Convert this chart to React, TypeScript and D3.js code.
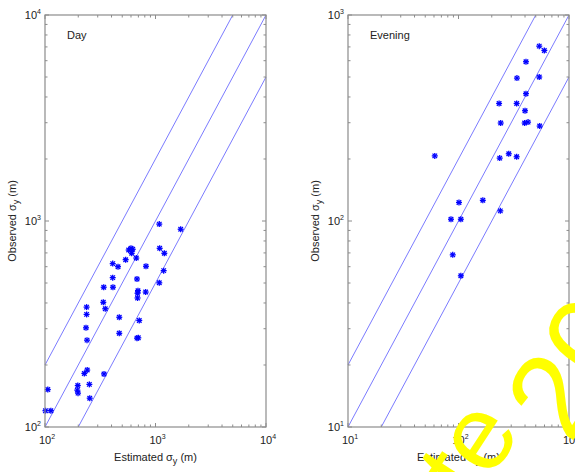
import React from "react";
import * as d3 from "d3";

// Day panel data (estimated, observed) in metres
const dayEstimated = [106, 101, 113, 238, 238, 235, 240, 241, 227, 198, 196, 199, 252, 254, 337, 351, 340, 412, 410, 410, 458, 342, 470, 470, 537, 572, 600, 622, 609, 670, 680, 694, 688, 688, 815, 820, 713, 680, 699, 1091, 1202, 1186, 1082, 1082, 1690];
const dayObserved = [152, 120, 120, 382, 352, 303, 264, 189, 182, 159, 151, 146, 161, 138, 403, 375, 477, 477, 531, 621, 600, 181, 341, 285, 649, 723, 737, 729, 697, 661, 523, 459, 446, 423, 452, 603, 329, 270, 271, 737, 697, 574, 501, 966, 912];

// Evening panel data
const eveEstimated = [61, 101, 85.5, 105, 166, 239, 236, 285, 336, 241, 233, 336, 338, 408, 408, 400, 397, 426, 538, 598, 538, 543, 88.7, 105];
const eveObserved = [207, 123, 102, 102, 126, 112, 202, 212, 205, 299, 372, 372, 494, 593, 415, 343, 299, 302, 706, 673, 500, 289, 68.5, 54.2];

const ratioLines = [2, 1, 0.5];

const dayDomain: [number, number] = [100, 10000];
const eveDomain: [number, number] = [10, 1000];

const FONT = "'Liberation Sans', Arial, sans-serif";
const LINE_COLOR = "#7b7bff";
const MARK_COLOR = "#0000ff";
const AXIS_COLOR = "#8c8c8c";

type PanelProps = {
  left: number;
  domain: [number, number];
  xs: number[];
  ys: number[];
  title: string;
};

const TOP = 15;
const BOTTOM = 427;
const WIDTH = 221;

function Sup({ x, y, base, exp, anchor }: { x: number; y: number; base: string; exp: string; anchor: string }) {
  return (
    <text x={x} y={y} textAnchor={anchor} fontFamily={FONT} fontSize={11} fill="#222">
      {base}
      <tspan fontSize={7} dy={-5}>{exp}</tspan>
    </text>
  );
}

function Panel({ left, domain, xs, ys, title }: PanelProps) {
  const x = d3.scaleLog().domain(domain).range([left, left + WIDTH]);
  const y = d3.scaleLog().domain(domain).range([BOTTOM, TOP]);
  const [lo, hi] = domain;
  const e0 = Math.round(Math.log10(lo));
  const e1 = Math.round(Math.log10(hi));
  const majors: number[] = [];
  const minors: number[] = [];
  for (let e = e0; e <= e1; e++) {
    majors.push(Math.pow(10, e));
    if (e < e1) for (let m = 2; m <= 9; m++) minors.push(m * Math.pow(10, e));
  }
  const line = d3.line<[number, number]>().x((d) => x(d[0])).y((d) => y(d[1]));
  const ms = 3;
  return (
    <g>
      {ratioLines.map((k, i) => {
        const xa = Math.max(lo, lo / k);
        const xb = Math.min(hi, hi / k);
        return (
          <path key={i} d={line([[xa, xa * k], [xb, xb * k]]) || ""} stroke={LINE_COLOR} strokeWidth={1} fill="none" />
        );
      })}
      {xs.map((v, i) => {
        const cx = x(v);
        const cy = y(ys[i]);
        const d = 0.75 * ms;
        return (
          <g key={i} stroke={MARK_COLOR} strokeWidth={1.3}>
            <line x1={cx - ms} y1={cy} x2={cx + ms} y2={cy} />
            <line x1={cx} y1={cy - ms} x2={cx} y2={cy + ms} />
            <line x1={cx - d} y1={cy - d} x2={cx + d} y2={cy + d} />
            <line x1={cx - d} y1={cy + d} x2={cx + d} y2={cy - d} />
          </g>
        );
      })}
      <rect x={left} y={TOP} width={WIDTH} height={BOTTOM - TOP} fill="none" stroke={AXIS_COLOR} strokeWidth={1.2} />
      {majors.concat(minors).map((v, i) => {
        const isMajor = i < majors.length;
        const len = isMajor ? 4 : 2.5;
        const px = x(v);
        const py = y(v);
        return (
          <g key={"t" + i} stroke={AXIS_COLOR} strokeWidth={1}>
            <line x1={px} y1={BOTTOM} x2={px} y2={BOTTOM - len} />
            <line x1={px} y1={TOP} x2={px} y2={TOP + len} />
            <line x1={left} y1={py} x2={left + len} y2={py} />
            <line x1={left + WIDTH} y1={py} x2={left + WIDTH - len} y2={py} />
          </g>
        );
      })}
      {majors.map((v, i) => {
        const e = String(Math.round(Math.log10(v)));
        return (
          <g key={"l" + i}>
            <Sup x={x(v) + 2} y={BOTTOM + 17} base="10" exp={e} anchor="middle" />
            <Sup x={left - 4} y={y(v) + 4} base="10" exp={e} anchor="end" />
          </g>
        );
      })}
      <text x={left + 22} y={39} fontFamily={FONT} fontSize={11} fill="#222">{title}</text>
      <text x={left + WIDTH / 2} y={461} textAnchor="middle" fontFamily={FONT} fontSize={11} fill="#222">
        Estimated σ<tspan fontSize={9} dy={3}>y</tspan><tspan dy={-3}> (m)</tspan>
      </text>
      <text transform={`translate(${left - 29},${(TOP + BOTTOM) / 2}) rotate(-90)`} textAnchor="middle" fontFamily={FONT} fontSize={11} fill="#222">
        Observed σ<tspan fontSize={9} dy={3}>y</tspan><tspan dy={-3}> (m)</tspan>
      </text>
    </g>
  );
}

export default function App() {
  return (
    <svg width={575} height={472} style={{ position: "absolute", left: 0, top: 0, background: "#fff" }}>
      <rect width={575} height={472} fill="#fff" />
      <Panel left={45} domain={dayDomain} xs={dayEstimated} ys={dayObserved} title="Day" />
      <Panel left={348} domain={eveDomain} xs={eveEstimated} ys={eveObserved} title="Evening" />
      <text transform="translate(474,505) rotate(-57)" fontFamily={FONT} fontSize={106} fill="#ffff00">te</text>
      <text transform="translate(570,445) rotate(-57)" fontFamily={FONT} fontSize={120} fill="#ffff00">20</text>
    </svg>
  );
}
